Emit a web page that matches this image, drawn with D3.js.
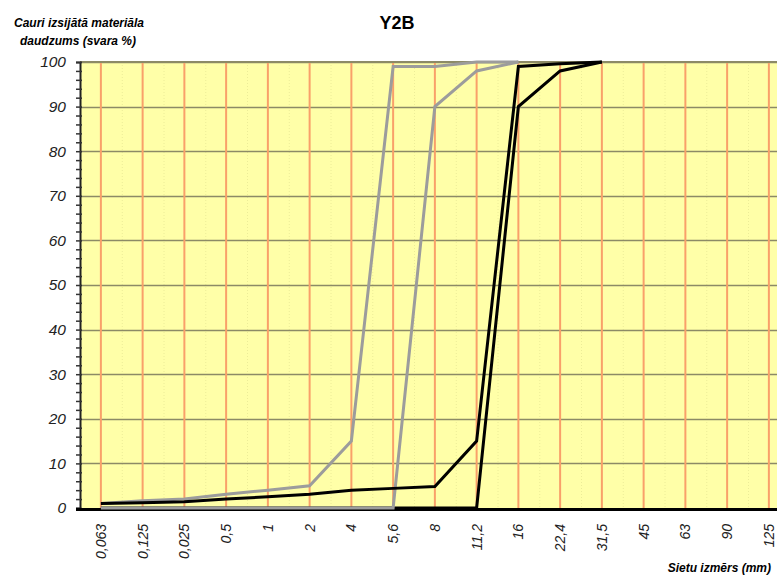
<!DOCTYPE html>
<html>
<head>
<meta charset="utf-8">
<script src="https://cdn.jsdelivr.net/npm/d3@7"></script>
<style>
body{margin:0;background:#fff;}
text{font-family:"Liberation Sans",Arial,sans-serif;}
</style>
</head>
<body>
<script>
// sieve sizes (mm)
let categories=["0,063","0,125","0,025","0,5","1","2","4","5,6","8","11,2","16","22,4","31,5","45","63","90","125"];
// passing % for the four envelope lines
let grayUpper=[1,1.6,2,3.1,4,5,15,99,99,100,100];
let grayLower=[0,0,0,0,0,0,0,0,90,98,100];
let blackUpper=[1,1.2,1.4,2,2.5,3.1,4,4.4,4.8,15,99,99.6,100];
let blackLower=[0,0,0,0,0,0,0,0,0,0,90,98,100];
let yTicks=[0,10,20,30,40,50,60,70,80,90,100];

let W=777,H=576;
let pLeft=80,pTop=62,pBottom=508,step=41.75;

let svg=d3.select("body").append("svg").attr("width",W).attr("height",H);

let x=d3.scaleBand().domain(categories).range([pLeft,pLeft+categories.length*step]).padding(0);
let cx=c=>x(c)+x.bandwidth()/2;
let y=d3.scaleLinear().domain([0,100]).range([pBottom,pTop]);

// plot background
svg.append("rect").attr("x",pLeft).attr("y",pTop)
    .attr("width",x.range()[1]-pLeft).attr("height",pBottom-pTop)
    .attr("fill","#ffffa8");

// faint dotted band borders
svg.selectAll(".vdot").data(categories.slice(1)).enter().append("line")
    .attr("x1",d=>x(d)+0.5).attr("x2",d=>x(d)+0.5)
    .attr("y1",pTop).attr("y2",pBottom)
    .attr("stroke","#ecec98").attr("stroke-dasharray","1,2");

// horizontal gridlines
svg.selectAll(".hgrid").data(yTicks.slice(1)).enter().append("line")
    .attr("x1",pLeft).attr("x2",W)
    .attr("y1",d=>Math.round(y(d))+0.5).attr("y2",d=>Math.round(y(d))+0.5)
    .attr("stroke","#8c8a66").attr("stroke-width",1.3);

// orange verticals at each sieve size
svg.selectAll(".vgrid").data(categories).enter().append("line")
    .attr("x1",d=>cx(d)).attr("x2",d=>cx(d))
    .attr("y1",pTop+1).attr("y2",pBottom)
    .attr("stroke","#f9a06a").attr("stroke-width",2);

// top border
svg.append("line").attr("x1",pLeft).attr("x2",W).attr("y1",pTop).attr("y2",pTop)
    .attr("stroke","#8c8a66").attr("stroke-width",2);

// y axis with minor ticks every 2
let yAxis=d3.axisLeft(y).tickValues(d3.range(0,101,2)).tickSize(4).tickFormat(d=>d%10===0?d:"");
let ya=svg.append("g").attr("transform",`translate(${pLeft},0)`).call(yAxis);
ya.select(".domain").attr("stroke","#222").attr("stroke-width",2);
ya.selectAll(".tick line").attr("stroke","#333").attr("stroke-width",1.5).attr("x2",-4).attr("x1",2);
ya.selectAll(".tick text").attr("x",-14).attr("font-size",15.5).attr("font-style","italic")
    .attr("fill","#222").attr("font-family","Liberation Sans, Arial, sans-serif");

// x axis
svg.append("line").attr("x1",pLeft-4).attr("x2",W).attr("y1",pBottom+1.5).attr("y2",pBottom+1.5)
    .attr("stroke","#000").attr("stroke-width",3);
svg.selectAll(".xlab").data(categories).enter().append("text")
    .attr("transform",d=>`translate(${cx(d)+5},524) rotate(-90)`)
    .attr("text-anchor","end").attr("font-size",14).attr("font-style","italic").attr("fill","#222")
    .text(d=>d);

// series
let line=d3.line().x((d,i)=>cx(categories[i])).y(d=>y(d));
let series=[
    {vals:blackLower,color:"#000"},
    {vals:grayLower,color:"#9c9c9c"},
    {vals:grayUpper,color:"#9c9c9c"},
    {vals:blackUpper,color:"#000"}
];
svg.selectAll(".series").data(series).enter().append("path")
    .attr("d",d=>line(d.vals))
    .attr("fill","none").attr("stroke",d=>d.color).attr("stroke-width",3)
    .attr("stroke-linejoin","miter");

// titles
svg.append("text").attr("x",397).attr("y",29).attr("text-anchor","middle")
    .attr("font-size",18).attr("font-weight","bold").text("Y2B");
let yt=svg.append("text").attr("text-anchor","middle").attr("font-size",12)
    .attr("font-weight","bold").attr("font-style","italic");
yt.append("tspan").attr("x",79).attr("y",27).text("Cauri izsijātā materiāla");
yt.append("tspan").attr("x",78).attr("y",45).text("daudzums (svara %)");
svg.append("text").attr("x",771).attr("y",572).attr("text-anchor","end")
    .attr("font-size",12).attr("font-weight","bold").attr("font-style","italic")
    .text("Sietu izmērs (mm)");
</script>
</body>
</html>
